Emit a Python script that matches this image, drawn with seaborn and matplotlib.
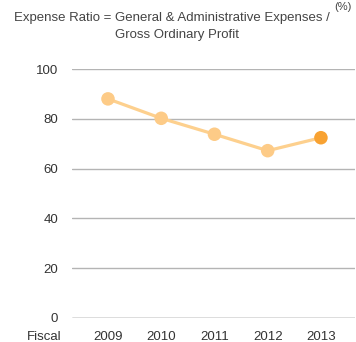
import matplotlib
matplotlib.use("Agg")
import matplotlib.pyplot as plt
import seaborn as sns
import pandas as pd

years = ["2009", "2010", "2011", "2012", "2013"]
ratio = [88.0, 80.2, 73.8, 67.2, 72.4]
highlight = ["past", "past", "past", "past", "latest"]
y_ticks = [0, 20, 40, 60, 80, 100]
subtitle_1 = "Expense Ratio = General & Administrative Expenses /"
subtitle_2 = "Gross Ordinary Profit"
unit = "(%)"
x_caption = "Fiscal"

df = pd.DataFrame({"year": years, "ratio": ratio, "kind": highlight})

sns.set_theme(style="white")
plt.rcParams["font.family"] = ["Liberation Sans", "DejaVu Sans"]

W, H = 356, 342
fig = plt.figure(figsize=(W / 100, H / 100), dpi=100)
ax = fig.add_axes([72 / W, (H - 318) / H, (355 - 72) / W, (318 - 69) / H])

sns.lineplot(data=df, x="year", y="ratio", ax=ax, color="#FDD08E", linewidth=2.3,
             sort=False, zorder=2)
sns.scatterplot(data=df, x="year", y="ratio", hue="kind", ax=ax,
                palette={"past": "#FDCB87", "latest": "#F8A232"},
                s=95, edgecolor="none", legend=False, zorder=3)

ax.set_ylim(0, 100)
ax.set_xlim(-0.676, 4.64)
ax.set_yticks(y_ticks)
for t in y_ticks:
    ax.axhline(t, color="#555555" if t == 0 else "#b4b4b4", linewidth=1.0, zorder=1)
for s in ax.spines.values():
    s.set_visible(False)
ax.tick_params(axis="y", length=0, pad=10, labelsize=9.5, labelcolor="#333333")
ax.tick_params(axis="x", length=0, pad=9.5, labelsize=9.5, labelcolor="#333333")
ax.set_xlabel("")
ax.set_ylabel("")

fig.text(62 / W, 1 - 336.5 / H, x_caption, ha="right", va="center", fontsize=9.5,
         color="#333333")
fig.text(172 / W, 1 - 18 / H, subtitle_1, ha="center", va="center", fontsize=9.5,
         color="#444444")
fig.text(177 / W, 1 - 35 / H, subtitle_2, ha="center", va="center", fontsize=9.5,
         color="#444444")
fig.text(352 / W, 1 - 2 / H, unit, ha="right", va="top", fontsize=8,
         color="#444444")

fig.savefig("out.png", dpi=100, facecolor="white")
